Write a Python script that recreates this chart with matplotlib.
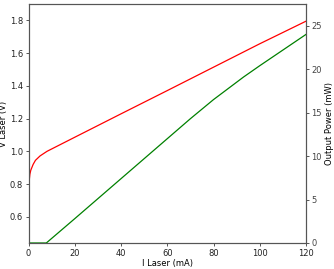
import matplotlib
matplotlib.use("Agg")
import matplotlib.pyplot as plt

# Data
i_v = [0, 0.05, 0.15, 0.3, 0.6, 1.0, 2.0, 3.0, 5.0, 8.0, 20, 40, 60, 80, 100, 120]
v_laser = [0.44, 0.70, 0.78, 0.82, 0.86, 0.885, 0.92, 0.945, 0.972, 1.0, 1.086, 1.229, 1.371, 1.514, 1.657, 1.795]

i_p = [0, 7.7, 20, 40, 60, 70, 75, 80, 86, 93, 100, 110, 120]
p_out = [0, 0, 2.8, 7.4, 12.0, 14.3, 15.4, 16.5, 17.7, 19.1, 20.4, 22.2, 24.0]

x_ticks = [0, 20, 40, 60, 80, 100, 120]
v_ticks = [0.6, 0.8, 1.0, 1.2, 1.4, 1.6, 1.8]
p_ticks = [0, 5, 10, 15, 20, 25]

fig = plt.figure(figsize=(3.34, 2.69), dpi=100)
ax = fig.add_axes([28.5/334, 1-243/269, (306-28.5)/334, (243-4)/269])
ax2 = ax.twinx()

ax.plot(i_v, v_laser, color='#ff0000', lw=0.9)
ax2.plot(i_p, p_out, color='#008000', lw=0.9)

ax.set_xlim(0, 120)
ax.set_ylim(0.44, 1.90)
ax2.set_ylim(0, 27.5)
ax.set_xticks(x_ticks)
ax.set_yticks(v_ticks)
ax.set_yticklabels([f"{v:.1f}" for v in v_ticks])
ax2.set_yticks(p_ticks)

spc = '#555555'
for a in (ax, ax2):
    for s in a.spines.values():
        s.set_color(spc)
        s.set_linewidth(0.8)
    a.tick_params(labelsize=6, length=2.5, width=0.7, color=spc, pad=1.5, labelcolor='#222222')
ax2.tick_params(labelcolor='#444444')

ax.set_xlabel("I Laser (mA)", fontsize=6, labelpad=1)
ax.set_ylabel("V Laser (V)", fontsize=6, labelpad=1.5)
ax2.set_ylabel("Output Power (mW)", fontsize=6, labelpad=2)

fig.savefig("out.png", dpi=100)
